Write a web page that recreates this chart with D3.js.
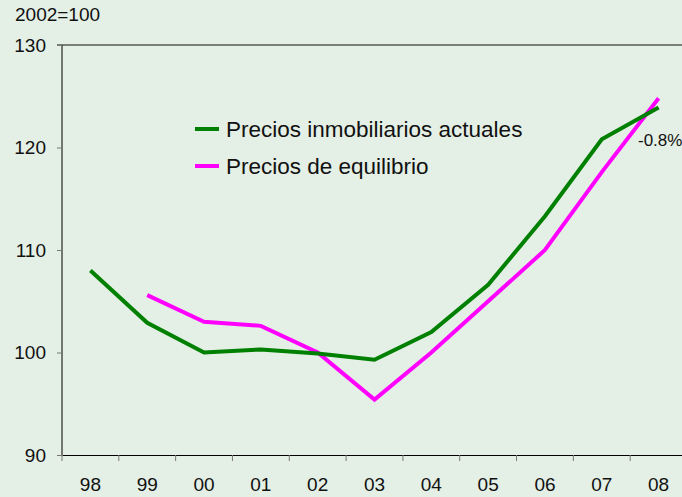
<!DOCTYPE html>
<html>
<head>
<meta charset="utf-8">
<script src="https://cdn.jsdelivr.net/npm/d3@7"></script>
<style>
  body { margin: 0; background: #e4efe5; }
  svg text { font-family: "Liberation Sans", Arial, sans-serif; fill: #111; }
</style>
</head>
<body>
<div id="chart"></div>
<script>
// Years on the x axis
const years = ['98', '99', '00', '01', '02', '03', '04', '05', '06', '07', '08'];
// Actual house prices (2002=100)
const actualPrices = [108.0, 102.9, 100.0, 100.3, 99.9, 99.3, 102.0, 106.6, 113.3, 120.8, 123.9];
// Equilibrium prices (no value for 98)
const equilibriumPrices = [null, 105.6, 103.0, 102.6, 100.0, 95.4, 100.0, 105.0, 110.0, 117.6, 124.8];
// Y axis ticks
const yTicks = [90, 100, 110, 120, 130];

const width = 682;
const height = 497;

const svg = d3.select('#chart')
  .append('svg')
  .attr('width', width)
  .attr('height', height);

svg.append('rect')
  .attr('width', width)
  .attr('height', height)
  .attr('fill', '#e4efe5');

// scales
const x = d3.scaleBand().domain(years).range([62, 687]);
const y = d3.scaleLinear().domain([90, 130]).range([455, 45]);

// top border line
svg.append('line')
  .attr('x1', 57).attr('x2', width)
  .attr('y1', y(130)).attr('y2', y(130))
  .attr('stroke', '#7a7f78')
  .attr('stroke-width', 2);

// y axis
const yAxis = svg.append('g')
  .attr('transform', 'translate(62,0)')
  .call(d3.axisLeft(y).tickValues(yTicks).tickSize(5).tickPadding(11));
yAxis.select('.domain').attr('stroke', '#000').attr('d', `M0,${y(130)}V${y(90)}`);
yAxis.selectAll('.tick line').attr('stroke', '#777');
yAxis.selectAll('.tick text')
  .attr('font-size', 19)
  .attr('font-family', '"Liberation Sans", Arial, sans-serif')
  .attr('fill', '#111');

// x axis, ticks sit on the band edges
const xAxis = svg.append('g')
  .attr('transform', `translate(0,${y(90)})`)
  .call(d3.axisBottom(x).tickSize(0).tickPadding(23));
xAxis.select('.domain').attr('stroke', '#000');
xAxis.selectAll('.tick text')
  .attr('font-size', 19)
  .attr('font-family', '"Liberation Sans", Arial, sans-serif')
  .attr('fill', '#111');
xAxis.selectAll('.edge')
  .data(years)
  .enter()
  .append('line')
  .attr('x1', d => x(d)).attr('x2', d => x(d))
  .attr('y1', 0).attr('y2', 6)
  .attr('stroke', '#777');

// unit label
svg.append('text')
  .attr('x', 15)
  .attr('y', 21)
  .attr('font-size', 19)
  .text('2002=100');

// lines
const line = d3.line()
  .defined(d => d.v !== null)
  .x(d => x(d.year) + x.bandwidth() / 2)
  .y(d => y(d.v));

svg.append('path')
  .datum(years.map((yr, i) => ({ year: yr, v: equilibriumPrices[i] })))
  .attr('d', line)
  .attr('fill', 'none')
  .attr('stroke', '#ff00ff')
  .attr('stroke-width', 4);

svg.append('path')
  .datum(years.map((yr, i) => ({ year: yr, v: actualPrices[i] })))
  .attr('d', line)
  .attr('fill', 'none')
  .attr('stroke', '#008000')
  .attr('stroke-width', 4);

// legend
const legendItems = [
  { name: 'Precios inmobiliarios actuales', color: '#008000' },
  { name: 'Precios de equilibrio', color: '#ff00ff' }
];
const legend = svg.selectAll('.legend')
  .data(legendItems)
  .enter()
  .append('g')
  .attr('class', 'legend')
  .attr('transform', (d, i) => `translate(195,${129 + i * 37})`);
legend.append('line')
  .attr('x1', 0).attr('x2', 24)
  .attr('stroke', d => d.color)
  .attr('stroke-width', 4);
legend.append('text')
  .attr('x', 31)
  .attr('y', 8)
  .attr('font-size', 22.5)
  .text(d => d.name);

// annotation
svg.append('text')
  .attr('x', 638)
  .attr('y', 146)
  .attr('font-size', 17)
  .text('-0.8%');
</script>
</body>
</html>
